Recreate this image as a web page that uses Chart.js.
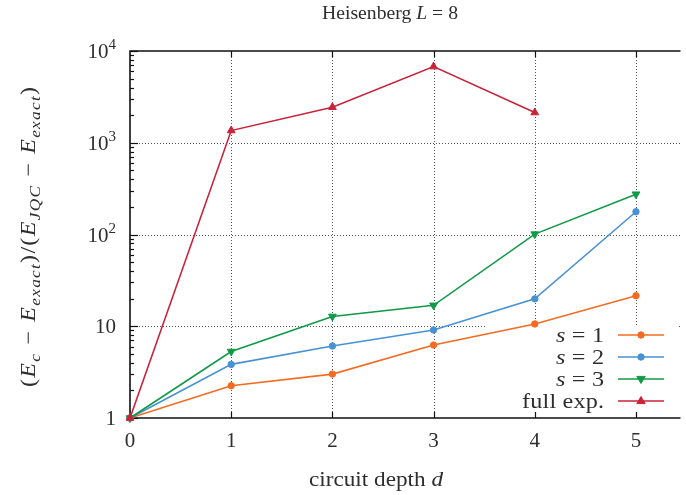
<!DOCTYPE html>
<html>
<head>
<meta charset="utf-8">
<script src="https://cdn.jsdelivr.net/npm/chart.js@4.4.1/dist/chart.umd.min.js"></script>
<style>
  html,body{margin:0;padding:0;background:#fff;overflow:hidden}
</style>
</head>
<body>
<canvas id="myChart" width="686" height="495"></canvas>
<script>
// data
const depth=[0,1,2,3,4,5];
const s1Vals=[1,2.25,3.01,6.24,10.6,21.5];
const s2Vals=[1,3.84,6.09,9.1,19.9,177];
const s3Vals=[1,5.31,12.8,16.9,101,275];
const fullVals=[1,1358,2443,6761,2133];
const labels=['s = 1','s = 2','s = 3','full exp.'];
const colors=['#f36c21','#4891d4','#109a47','#c9233a'];
const xTicks=[0,1,2,3,4,5];
const yTicks=[1,10,100,1000,10000];

const FONT='"Liberation Serif","DejaVu Serif",serif';
const INK='#2e2e2e';

function pts(vals){
  const out=[];
  for(let i=0;i<vals.length;i++) out.push({x:depth[i],y:vals[i]});
  return out;
}

function fnt(p,size){
  const s=(p.sub||p.sup)?Math.round(size*0.7):size;
  return (p.it?'italic ':'')+s+'px '+FONT;
}
function richW(ctx,parts,size){
  let w=0;
  parts.forEach(p=>{ctx.font=fnt(p,size);w+=ctx.measureText(p.t).width+2*(p.pad||0);});
  return w;
}
// draws mixed italic / sub / sup text; if a width is given it is reached by a
// light stretch plus a little letter spacing
function rich(ctx,parts,x,y,size,align,targetW){
  const w=richW(ctx,parts,size);
  const nch=parts.reduce((n,p)=>n+p.t.length,0);
  let sx=1,gap=0;
  if(targetW){
    sx=Math.min(targetW/w,1.15);
    gap=(targetW/sx-w)/Math.max(nch-1,1);
  }
  const full=w+gap*(nch-1);
  ctx.save();
  ctx.translate(x,y);
  ctx.scale(sx,1);
  let cx=align==='center'?-full/2:(align==='right'?-full:0);
  ctx.textAlign='left';
  ctx.textBaseline='alphabetic';
  ctx.fillStyle=INK;
  parts.forEach(p=>{
    ctx.font=fnt(p,size);
    const dy=p.sub?size*0.22:(p.sup?-size*0.42:0);
    cx+=p.pad||0;
    if(gap===0){
      ctx.fillText(p.t,cx,dy);
      cx+=ctx.measureText(p.t).width;
    }else{
      for(const ch of p.t){
        ctx.fillText(ch,cx,dy);
        cx+=ctx.measureText(ch).width+gap;
      }
    }
    cx+=p.pad||0;
  });
  ctx.restore();
}

function marker(ctx,style,x,y,color){
  ctx.fillStyle=color;
  ctx.strokeStyle=color;
  ctx.lineWidth=1;
  ctx.beginPath();
  if(style==='circle'){
    ctx.arc(x,y,3.2,0,Math.PI*2);
  }else if(style==='up'){
    ctx.moveTo(x,y-4.5);ctx.lineTo(x-4.2,y+2.6);ctx.lineTo(x+4.2,y+2.6);ctx.closePath();
  }else{
    ctx.moveTo(x,y+4.5);ctx.lineTo(x-4.2,y-2.6);ctx.lineTo(x+4.2,y-2.6);ctx.closePath();
  }
  ctx.fill();
  ctx.stroke();
}
const markerStyles=['circle','circle','down','up'];

const framePlugin={
  id:'frame',
  beforeDatasetsDraw(chart){
    const {ctx,chartArea:a,scales:{x,y}}=chart;
    ctx.save();
    // dotted grid
    ctx.strokeStyle='#555';
    ctx.lineWidth=1;
    ctx.setLineDash([1,2]);
    xTicks.forEach(v=>{
      if(v===0) return;
      const px=Math.round(x.getPixelForValue(v))+0.5;
      ctx.beginPath();ctx.moveTo(px,a.top);ctx.lineTo(px,a.bottom);ctx.stroke();
    });
    yTicks.forEach(v=>{
      if(v===1||v===10000) return;
      const py=Math.round(y.getPixelForValue(v))+0.5;
      ctx.beginPath();ctx.moveTo(a.left,py);ctx.lineTo(a.right,py);ctx.stroke();
    });
    ctx.setLineDash([]);

    // opaque key box
    ctx.fillStyle='#fff';
    ctx.fillRect(487,325,190,88);

    // border (right side is off the picture)
    ctx.strokeStyle='#111';
    ctx.lineWidth=1.6;
    ctx.beginPath();
    ctx.moveTo(a.right,a.top);ctx.lineTo(a.left,a.top);
    ctx.lineTo(a.left,a.bottom);ctx.lineTo(a.right,a.bottom);
    ctx.stroke();

    // tick marks
    ctx.lineWidth=1.2;
    xTicks.forEach(v=>{
      if(v===0) return;
      const px=Math.round(x.getPixelForValue(v))+0.5;
      ctx.beginPath();
      ctx.moveTo(px,a.top);ctx.lineTo(px,a.top+6);
      ctx.moveTo(px,a.bottom);ctx.lineTo(px,a.bottom-6);
      ctx.stroke();
    });
    yTicks.forEach((v,i)=>{
      const py=Math.round(y.getPixelForValue(v))+0.5;
      ctx.beginPath();ctx.moveTo(a.left,py);ctx.lineTo(a.left+8,py);ctx.stroke();
      if(i<yTicks.length-1){
        for(let k=2;k<10;k++){
          const my=Math.round(y.getPixelForValue(v*k))+0.5;
          ctx.beginPath();ctx.moveTo(a.left,my);ctx.lineTo(a.left+4,my);ctx.stroke();
        }
      }
    });

    // key entries
    const rowY=[335,357,379,401];
    const fullW=richW(ctx,[{t:'full exp.'}],21);
    const kx=82/fullW;
    labels.forEach((lab,i)=>{
      let parts;
      if(lab.startsWith('s = ')) parts=[{t:'s',it:1},{t:lab.slice(1)}];
      else parts=[{t:lab}];
      const w=richW(ctx,parts,21);
      rich(ctx,parts,604,rowY[i]+7,21,'right',w*kx);
      ctx.strokeStyle=colors[i];
      ctx.lineWidth=1.6;
      ctx.beginPath();ctx.moveTo(618,rowY[i]);ctx.lineTo(664,rowY[i]);ctx.stroke();
      marker(ctx,markerStyles[i],641,rowY[i],colors[i]);
    });
    ctx.restore();
  },
  afterDraw(chart){
    const {ctx,chartArea:a,scales:{x,y}}=chart;
    ctx.save();
    // x tick labels
    xTicks.forEach(v=>{
      rich(ctx,[{t:String(v)}],x.getPixelForValue(v),447,21,'center');
    });
    // y tick labels
    yTicks.forEach((v,i)=>{
      const py=y.getPixelForValue(v)+7;
      let parts;
      if(i===0) parts=[{t:'1'}];
      else if(i===1) parts=[{t:'10'}];
      else parts=[{t:'10'},{t:String(i),sup:1}];
      rich(ctx,parts,116,py,21,'right');
    });
    // title
    rich(ctx,[{t:'Heisenberg '},{t:'L',it:1},{t:' = 8'}],390,19,18,'center',136);
    // x title
    rich(ctx,[{t:'circuit depth '},{t:'d',it:1}],376,486,21,'center',134);
    // y title
    ctx.translate(35,237);
    ctx.rotate(-Math.PI/2);
    rich(ctx,[
      {t:'('},{t:'E',it:1},{t:'c',it:1,sub:1},{t:'−',pad:7},{t:'E',it:1},{t:'exact',it:1,sub:1},
      {t:')/('},{t:'E',it:1},{t:'JQC',it:1,sub:1},{t:'−',pad:7},{t:'E',it:1},{t:'exact',it:1,sub:1},{t:')'}
    ],0,0,21,'center',300);
    ctx.restore();
  }
};

function ds(i,vals,style,rot,r,order){
  return {
    label:labels[i],
    data:pts(vals),
    borderColor:colors[i],
    backgroundColor:colors[i],
    pointBackgroundColor:colors[i],
    pointBorderColor:colors[i],
    pointStyle:style,
    rotation:rot,
    pointRadius:r,
    pointBorderWidth:1,
    borderWidth:1.6,
    tension:0,
    clip:false,
    order:order
  };
}

const data={
  datasets:[
    ds(0,s1Vals,'circle',0,3.2,3),
    ds(1,s2Vals,'circle',0,3.2,2),
    ds(2,s3Vals,'triangle',180,4.5,1),
    ds(3,fullVals,'triangle',0,4.5,0)
  ]
};

const config={
  type:'line',
  data,
  plugins:[framePlugin],
  options:{
    responsive:false,
    animation:false,
    layout:{padding:{left:130,top:51,right:0,bottom:77}},
    plugins:{legend:{display:false},tooltip:{enabled:false},title:{display:false}},
    scales:{
      x:{
        type:'linear',
        min:0,
        max:5.44,
        afterBuildTicks(axis){axis.ticks=xTicks.map(v=>({value:v}));},
        ticks:{display:false},
        grid:{display:false,drawTicks:false},
        border:{display:false}
      },
      y:{
        type:'logarithmic',
        min:1,
        max:10000,
        afterBuildTicks(axis){axis.ticks=yTicks.map(v=>({value:v}));},
        ticks:{display:false},
        grid:{display:false,drawTicks:false},
        border:{display:false}
      }
    }
  }
};

const myChart=new Chart(document.getElementById('myChart'),config);
</script>
</body>
</html>
